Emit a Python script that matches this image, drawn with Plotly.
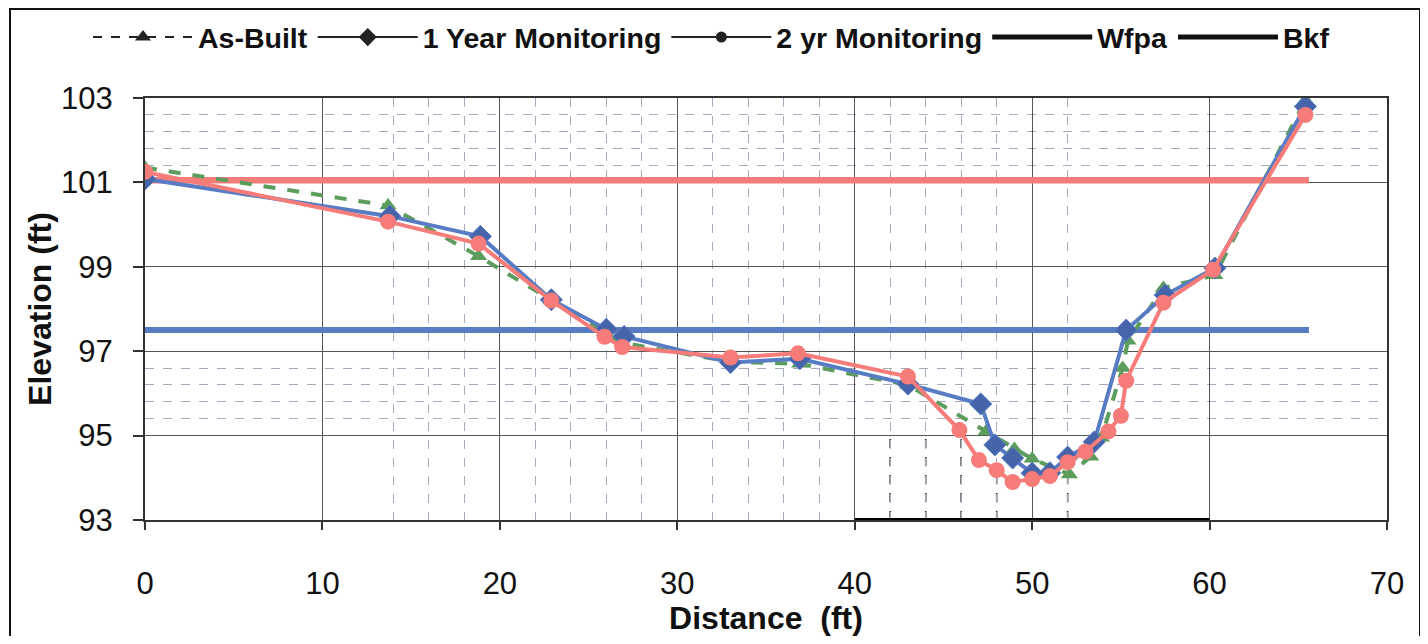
import plotly.graph_objects as go

# ---------------- data ----------------
dist_asbuilt = [0, 13.7, 18.8, 22.9, 25.9, 26.9, 33.0, 36.9, 43.0, 47.4, 49.0, 50.0,
                52.1, 53.3, 53.9, 55.1, 55.4, 57.4, 60.3, 65.4]
elev_asbuilt = [101.35, 100.45, 99.25, 98.2, 97.45, 97.2, 96.75, 96.7, 96.2, 95.1, 94.68, 94.45,
                94.08, 94.5, 94.95, 96.6, 97.25, 98.5, 98.8, 102.95]

dist_1yr = [0, 13.8, 18.9, 22.9, 26.0, 27.0, 33.0, 36.9, 43.0, 47.1, 47.9, 48.9, 50.0,
            51.0, 52.0, 53.5, 55.3, 57.5, 60.3, 65.4]
elev_1yr = [101.08, 100.2, 99.72, 98.22, 97.52, 97.35, 96.73, 96.82, 96.22, 95.75, 94.78, 94.47, 94.11,
            94.12, 94.49, 94.85, 97.5, 98.33, 98.97, 102.8]

dist_2yr = [0, 13.7, 18.8, 22.9, 25.9, 26.9, 33.0, 36.8, 43.0, 45.9, 47.0, 48.0, 48.9,
            50.0, 51.0, 52.0, 53.0, 54.3, 55.0, 55.3, 57.4, 60.2, 65.4]
elev_2yr = [101.25, 100.07, 99.55, 98.2, 97.34, 97.1, 96.85, 96.95, 96.4, 95.13, 94.42, 94.18, 93.9,
            93.97, 94.04, 94.37, 94.62, 95.1, 95.47, 96.3, 98.15, 98.93, 102.6]

dist_wfpa = [0, 65.6]
elev_wfpa = [101.05, 101.05]
dist_bkf = [0, 65.6]
elev_bkf = [97.5, 97.5]

series_names = ["As-Built", "1 Year Monitoring", "2 yr Monitoring", "Wfpa", "Bkf"]

x_ticks = [0, 10, 20, 30, 40, 50, 60, 70]
y_ticks = [93, 95, 97, 99, 101, 103]
x_minor = [14, 16, 18, 22, 24, 26, 28, 32, 34, 36, 38, 42, 44, 46, 48, 52]
y_minor = [95.4, 95.8, 96.2, 96.6, 101.4, 101.8, 102.2, 102.6]

# ---------------- styles ----------------
PINK = "rgb(246,124,122)"
BLUE = "rgb(88,124,196)"
BLUE_M = "rgb(70,100,170)"
GREEN = "rgb(92,156,92)"
FONT = "Liberation Sans, Arial, sans-serif"

fig = go.Figure()

# reference lines
fig.add_trace(go.Scatter(x=dist_wfpa, y=elev_wfpa, mode="lines", showlegend=False,
                         line=dict(color=PINK, width=6.5)))
fig.add_trace(go.Scatter(x=dist_bkf, y=elev_bkf, mode="lines", showlegend=False,
                         line=dict(color=BLUE, width=6)))
# surveys
fig.add_trace(go.Scatter(x=dist_asbuilt, y=elev_asbuilt, mode="lines+markers", showlegend=False,
                         line=dict(color=GREEN, width=4, dash="dash"),
                         marker=dict(symbol="triangle-up", size=15, color=GREEN)))
fig.add_trace(go.Scatter(x=dist_1yr, y=elev_1yr, mode="lines+markers", showlegend=False,
                         line=dict(color=BLUE, width=4),
                         marker=dict(symbol="diamond", size=17, color=BLUE_M,
                                     line=dict(color=BLUE, width=1))))
fig.add_trace(go.Scatter(x=dist_2yr, y=elev_2yr, mode="lines+markers", showlegend=False,
                         line=dict(color=PINK, width=4),
                         marker=dict(symbol="circle", size=16, color=PINK)))

# legend entries (black, as in the scanned legend)
legend_styles = [
    dict(line=dict(color="#222", width=2, dash="dash"), marker=dict(symbol="triangle-up", size=14, color="#222"), mode="lines+markers"),
    dict(line=dict(color="#222", width=2), marker=dict(symbol="diamond", size=14, color="#222"), mode="lines+markers"),
    dict(line=dict(color="#222", width=2), marker=dict(symbol="circle", size=11, color="#222"), mode="lines+markers"),
    dict(line=dict(color="#111", width=5), mode="lines"),
    dict(line=dict(color="#111", width=5), mode="lines"),
]
for name, st in zip(series_names, legend_styles):
    fig.add_trace(go.Scatter(x=[None], y=[None], name=name, showlegend=True, **st))

# darker dashed grid remnants and thick axis segment seen on the scan
for xv, ytop in [(42, 95.0), (44, 95.0), (46, 95.0), (48, 94.0), (52, 94.0)]:
    fig.add_shape(type="line", x0=xv, x1=xv, y0=93, y1=ytop, xref="x", yref="y",
                  line=dict(color="#222", width=1.5, dash="dash"), layer="below")
fig.add_shape(type="line", x0=40, x1=60, y0=93, y1=93, xref="x", yref="y",
              line=dict(color="#000", width=4), layer="above")

# outer chart border
fig.add_shape(type="rect", xref="paper", yref="paper",
              x0=(10 - 145) / 1242, x1=(1420 - 145) / 1242,
              y0=(520 - 700) / 422, y1=(520 - 9) / 422,
              line=dict(color="#111", width=2), fillcolor="rgba(0,0,0,0)", layer="below")

axis_common = dict(
    showline=True, linecolor="#333", linewidth=2, mirror=True,
    showgrid=True, gridcolor="#555", gridwidth=1.3,
    zeroline=False, ticks="outside", tickcolor="#333", tickwidth=2,
    tickfont=dict(family=FONT, size=31, color="#111"),
)

fig.update_xaxes(range=[0, 70], tickvals=x_ticks, ticklen=8, ticklabelstandoff=27,
                 minor=dict(tickvals=x_minor, showgrid=True, gridcolor="#a3abbd",
                            griddash="dash", gridwidth=1, ticks=""),
                 title=dict(text="<b>Distance\u00a0\u00a0(ft)</b>", font=dict(family=FONT, size=32, color="#111"),
                            standoff=0),
                 **axis_common)
fig.update_yaxes(range=[93, 103], tickvals=y_ticks, ticklen=10, ticklabelstandoff=14,
                 minor=dict(tickvals=y_minor, showgrid=True, gridcolor="#a3abbd",
                            griddash="dash", gridwidth=1, ticks=""),
                 title=dict(text="<b>Elevation (ft)</b>", font=dict(family=FONT, size=32, color="#111"),
                            standoff=0),
                 **axis_common)

# the page body has an 8px margin, so the figure is sized to fill the window exactly
fig.update_layout(
    width=1412, height=628,
    margin=dict(l=137, r=33, t=90, b=116),
    paper_bgcolor="white", plot_bgcolor="white",
    font=dict(family=FONT, color="#111"),
    legend=dict(orientation="h", xref="container", yref="container",
                x=80 / 1412, y=1 - 4 / 628, xanchor="left", yanchor="top",
                font=dict(family=FONT, size=28.5, color="#111", weight="bold"),
                itemwidth=100, bgcolor="rgba(0,0,0,0)", tracegroupgap=0),
)

fig.write_html("out.html")
